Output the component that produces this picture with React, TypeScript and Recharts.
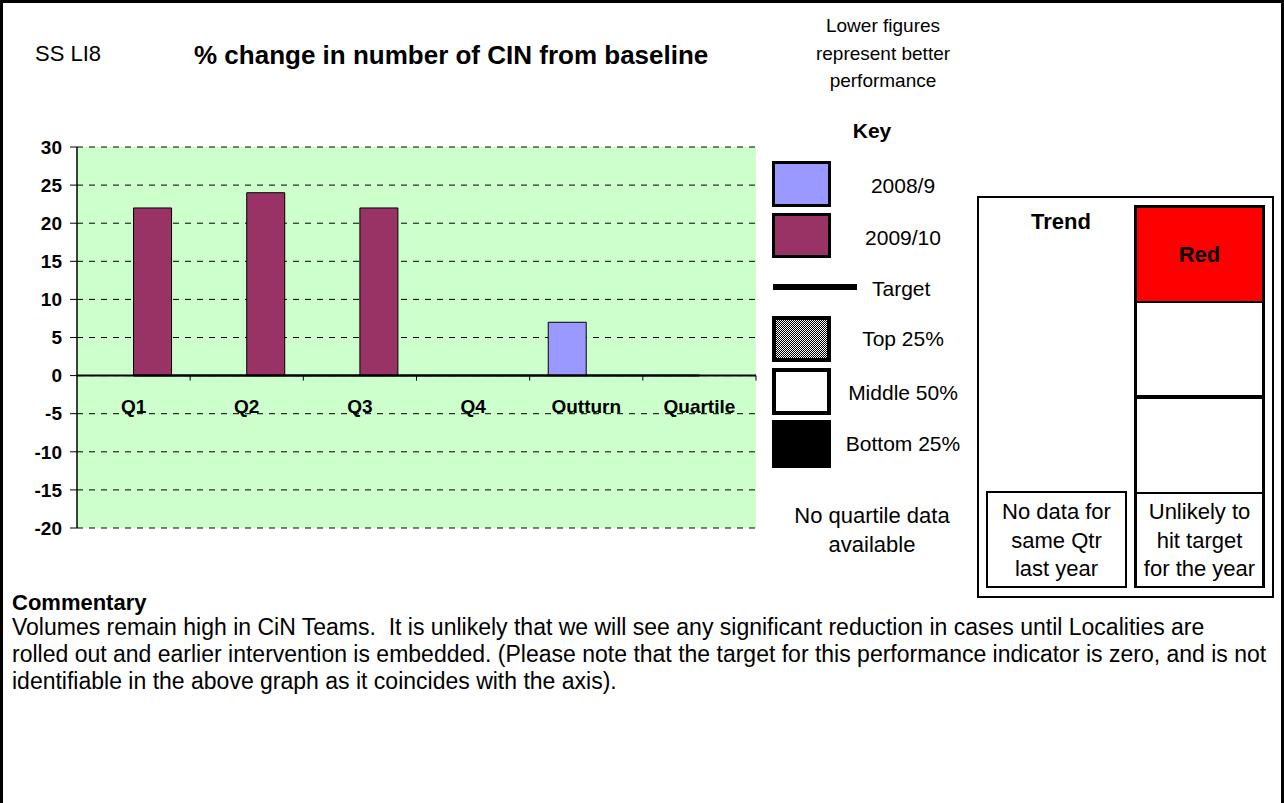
import React from 'react';
import { BarChart, Bar, Line, XAxis, YAxis, CartesianGrid, ReferenceLine } from 'recharts';

// values
const categories = ['Q1', 'Q2', 'Q3', 'Q4', 'Outturn', 'Quartile'];
const values2008 = [null, null, null, null, 7, null];
const values2009 = [22, 24, 22, null, null, null];
const target = [0, 0, 0, 0, 0, 0];
const yTicks = [-20, -15, -10, -5, 0, 5, 10, 15, 20, 25, 30];

const keyItems = ['2008/9', '2009/10', 'Target', 'Top 25%', 'Middle 50%', 'Bottom 25%'];
const commentary = [
  'Volumes remain high in CiN Teams.  It is unlikely that we will see any significant reduction in cases until Localities are',
  'rolled out and earlier intervention is embedded. (Please note that the target for this performance indicator is zero, and is not',
  'identifiable in the above graph as it coincides with the axis).',
];

const data = categories.map((cat, i) => ({
  cat,
  y2008: values2008[i],
  y2009: values2009[i],
  target: target[i],
}));

const FONT = '"Liberation Sans", Arial, sans-serif';

// chart frame
const CHART_W = 770;
const CHART_H = 560;
const X_AXIS_H = 1;
const M = { top: 147, right: 14, bottom: 31, left: 0 };
const Y_AXIS_W = 77;
const PLOT_TOP = M.top;
const PLOT_BOTTOM = CHART_H - M.bottom - X_AXIS_H;
const Y_MIN = -20;
const Y_MAX = 30;
const ZERO_Y = PLOT_TOP + ((PLOT_BOTTOM - PLOT_TOP) * Y_MAX) / (Y_MAX - Y_MIN);
const BAND = (CHART_W - M.right - M.left - Y_AXIS_W) / categories.length;

function CategoryTick(props: any) {
  const { x, payload } = props;
  return (
    <g>
      <line x1={x + BAND / 2} x2={x + BAND / 2} y1={ZERO_Y} y2={ZERO_Y + 5} stroke="#000" strokeWidth={1} />
      <text
        x={x}
        y={ZERO_Y + 37}
        textAnchor="middle"
        fontFamily={FONT}
        fontWeight="bold"
        fontSize={19}
        fill="#000"
      >
        {payload.value}
      </text>
    </g>
  );
}

const abs = (left: number, top: number, extra: React.CSSProperties = {}): React.CSSProperties => ({
  position: 'absolute',
  left,
  top,
  boxSizing: 'border-box',
  ...extra,
});

// centred one-line label, y is the middle of the text
function Label({ cx, cy, size, bold, children, w = 200 }: any) {
  return (
    <div
      style={abs(cx - w / 2, cy - size / 2, {
        width: w,
        textAlign: 'center',
        fontSize: size,
        lineHeight: `${size}px`,
        fontWeight: bold ? 'bold' : 'normal',
        whiteSpace: 'nowrap',
      })}
    >
      {children}
    </div>
  );
}

const swatch = [
  { top: 161, h: 46, border: 3, bg: '#9999FF' },
  { top: 213, h: 45, border: 3, bg: '#993366' },
  null,
  {
    top: 316,
    h: 46,
    border: 4,
    bg: '#fff',
    img: 'repeating-conic-gradient(#000 0 25%, #fff 0 50%)',
  },
  { top: 368, h: 47, border: 4, bg: '#fff' },
  { top: 420, h: 48, border: 0, bg: '#000' },
];
const keyLabelY = [185, 237, 288, 338, 392, 443];

export default function App() {
  return (
    <div
      style={abs(0, 0, {
        width: 1284,
        height: 803,
        borderLeft: '3px solid #000',
        borderTop: '3px solid #000',
        borderRight: '3px solid #000',
        background: '#fff',
        fontFamily: FONT,
        color: '#000',
        overflow: 'hidden',
      })}
    >
      {/* header */}
      <div style={abs(32, 40, { fontSize: 22, lineHeight: '22px' })}>SS LI8</div>
      <div style={abs(191, 39, { fontSize: 26, lineHeight: '26px', fontWeight: 'bold', whiteSpace: 'nowrap' })}>
        % change in number of CIN from baseline
      </div>
      <div
        style={abs(780, 9, {
          width: 200,
          textAlign: 'center',
          fontSize: 19,
          lineHeight: '27.5px',
        })}
      >
        Lower figures
        <br />
        represent better
        <br />
        performance
      </div>

      {/* chart */}
      <div style={abs(-3, -3)}>
        <BarChart
          width={CHART_W}
          height={CHART_H}
          data={data}
          margin={M}
          barCategoryGap="16.4%"
          barGap={0}
        >
          <CartesianGrid
            vertical={false}
            stroke="#000"
            strokeDasharray="6 6"
            fill="#CCFFCC"
            fillOpacity={1}
          />
          <XAxis
            dataKey="cat"
            height={X_AXIS_H}
            axisLine={false}
            tickLine={false}
            interval={0}
            tick={(p: any) => <CategoryTick {...p} />}
          />
          <YAxis
            width={Y_AXIS_W}
            domain={[Y_MIN, Y_MAX]}
            ticks={yTicks}
            allowDataOverflow
            axisLine={{ stroke: '#000', strokeWidth: 1.5 }}
            tickLine={{ stroke: '#000' }}
            tickSize={7}
            tickMargin={8}
            tick={{ fill: '#000', fontSize: 19, fontWeight: 'bold', fontFamily: FONT }}
          />
          <Bar dataKey="y2008" fill="#9999FF" stroke="#000" strokeWidth={1} isAnimationActive={false} />
          <Bar dataKey="y2009" fill="#993366" stroke="#000" strokeWidth={1} isAnimationActive={false} />
          <ReferenceLine y={0} stroke="#000" strokeWidth={2} />
          <Line
            dataKey="target"
            stroke="#000"
            strokeWidth={2}
            dot={false}
            activeDot={false}
            isAnimationActive={false}
          />
        </BarChart>
      </div>

      {/* key */}
      <Label cx={869} cy={127} size={21} bold>
        Key
      </Label>
      {swatch.map((s, i) =>
        s ? (
          <div
            key={i}
            style={abs(769, s.top - 3, {
              width: 59,
              height: s.h,
              border: s.border ? `${s.border}px solid #000` : 'none',
              background: s.bg,
              backgroundImage: s.img,
              backgroundSize: s.img ? '2px 2px' : undefined,
            })}
          />
        ) : (
          <div key={i} style={abs(770, 281, { width: 84, height: 6, background: '#000' })} />
        ),
      )}
      {keyItems.map((k, i) =>
        i === 2 ? (
          <div key={k} style={abs(869, keyLabelY[i] - 3 - 10.5, { fontSize: 21, lineHeight: '21px' })}>
            {k}
          </div>
        ) : (
          <Label key={k} cx={900} cy={keyLabelY[i] - 3} size={21}>
            {k}
          </Label>
        ),
      )}
      <div
        style={abs(769, 498, {
          width: 200,
          textAlign: 'center',
          fontSize: 22,
          lineHeight: '29px',
        })}
      >
        No quartile data
        <br />
        available
      </div>

      {/* trend panel */}
      <div style={abs(974, 193, { width: 297, height: 402, border: '2px solid #000' })} />
      <Label cx={1058} cy={219} size={22} bold>
        Trend
      </Label>
      <div
        style={abs(983, 488, {
          width: 141,
          height: 97,
          border: '2px solid #000',
          textAlign: 'center',
          fontSize: 22,
          lineHeight: '28.5px',
          paddingTop: 5,
        })}
      >
        No data for
        <br />
        same Qtr
        <br />
        last year
      </div>
      <div
        style={abs(1131, 202, {
          width: 131,
          height: 383,
          border: '3px solid #000',
          borderBottomWidth: 2,
          display: 'flex',
          flexDirection: 'column',
        })}
      >
        <div
          style={{
            height: 95,
            background: '#FF0000',
            borderBottom: '2px solid #000',
            boxSizing: 'border-box',
            fontWeight: 'bold',
            fontSize: 22,
            textAlign: 'center',
            paddingTop: 36,
            lineHeight: '22px',
          }}
        >
          Red
        </div>
        <div style={{ height: 96, borderBottom: '4px solid #000', boxSizing: 'border-box' }} />
        <div style={{ height: 95, borderBottom: '2px solid #000', boxSizing: 'border-box' }} />
        <div
          style={{
            flex: 1,
            textAlign: 'center',
            fontSize: 22,
            lineHeight: '28.5px',
            paddingTop: 4,
            whiteSpace: 'nowrap',
          }}
        >
          Unlikely to
          <br />
          hit target
          <br />
          for the year
        </div>
      </div>

      {/* commentary */}
      <div style={abs(9, 589, { fontSize: 22, lineHeight: '22px', fontWeight: 'bold' })}>Commentary</div>
      <div style={abs(9, 611, { fontSize: 23, lineHeight: '27px' })}>
        {commentary.map((line) => (
          <div key={line} style={{ whiteSpace: 'pre' }}>
            {line}
          </div>
        ))}
      </div>
    </div>
  );
}
